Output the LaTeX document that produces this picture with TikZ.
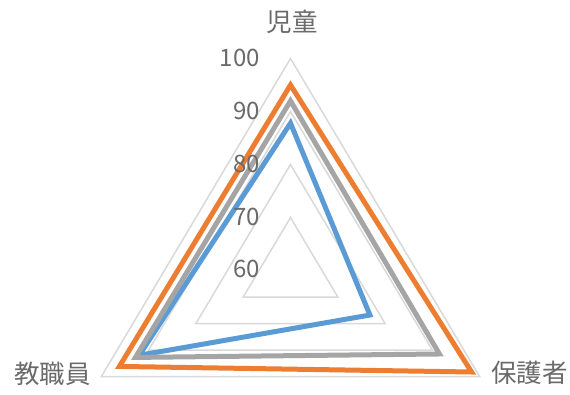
\documentclass[tikz,border=0pt]{standalone}
\usepackage{fontspec}
\setmainfont{Noto Sans CJK JP}
\definecolor{gridc}{HTML}{D9D9D9}
\definecolor{txtc}{HTML}{6A6A6A}
\definecolor{serblue}{HTML}{5B9BD5}
\definecolor{serorange}{HTML}{ED7D31}
\definecolor{sergray}{HTML}{A5A5A5}
\begin{document}
\begin{tikzpicture}[x=1pt,y=-1pt,
  gridline/.style={draw=gridc,line width=1.5pt,line join=miter},
  series/.style={line width=5pt,line join=miter,miter limit=10},
  ticklbl/.style={anchor=east,font=\fontsize{24}{24}\selectfont,text=txtc,inner sep=0pt},
  catlbl/.style={font=\fontsize{25.5}{25.5}\selectfont,text=txtc,inner sep=0pt}]
\useasboundingbox (0,0) rectangle (570,394);
\def\cx{290.5}\def\cy{270.5}\def\sc{5.3}\def\hx{0.892}
% vertex helpers
\newcommand\radpt[3]{%
  \coordinate (#1T) at (\cx,{\cy-(#2-60)*\sc});
  \coordinate (#1R) at ({\cx+\hx*(#3-60)*\sc},{\cy+0.5*(#3-60)*\sc});
}
\newcommand\radleft[2]{%
  \coordinate (#1L) at ({\cx-\hx*(#2-60)*\sc},{\cy+0.5*(#2-60)*\sc});
}
% grid triangles
\foreach \v in {70,80,90,100}{
  \radpt{g\v}{\v}{\v}\radleft{g\v}{\v}
  \draw[gridline] (g\v T) -- (g\v R) -- (g\v L) -- cycle;
}
% series
\radpt{b}{87.8}{76.8}\radleft{b}{92}
\radpt{o}{95}{98.3}\radleft{o}{96.2}
\radpt{s}{92}{91.5}\radleft{s}{92.8}
\draw[series,serblue] (bT) -- (bR) -- (bL) -- cycle;
\draw[series,serorange] (oT) -- (oR) -- (oL) -- cycle;
\draw[series,sergray] (sT) -- (sR) -- (sL) -- cycle;
% tick labels
\node[ticklbl] (t100) at (260,57.5) {100};
\node[ticklbl] (t90) at (260,110.5) {90};
\node[ticklbl] (t80) at (260,164) {80};
\node[ticklbl] (t70) at (260,216.5) {70};
\node[ticklbl] (t60) at (260,269) {60};
% category labels
\node[catlbl] (kodomo) at (292,22) {児童};
\node[catlbl,anchor=west] (hogo) at (491,373) {保護者};
\node[catlbl,anchor=east] (kyou) at (91,374) {教職員};
\end{tikzpicture}
\end{document}
